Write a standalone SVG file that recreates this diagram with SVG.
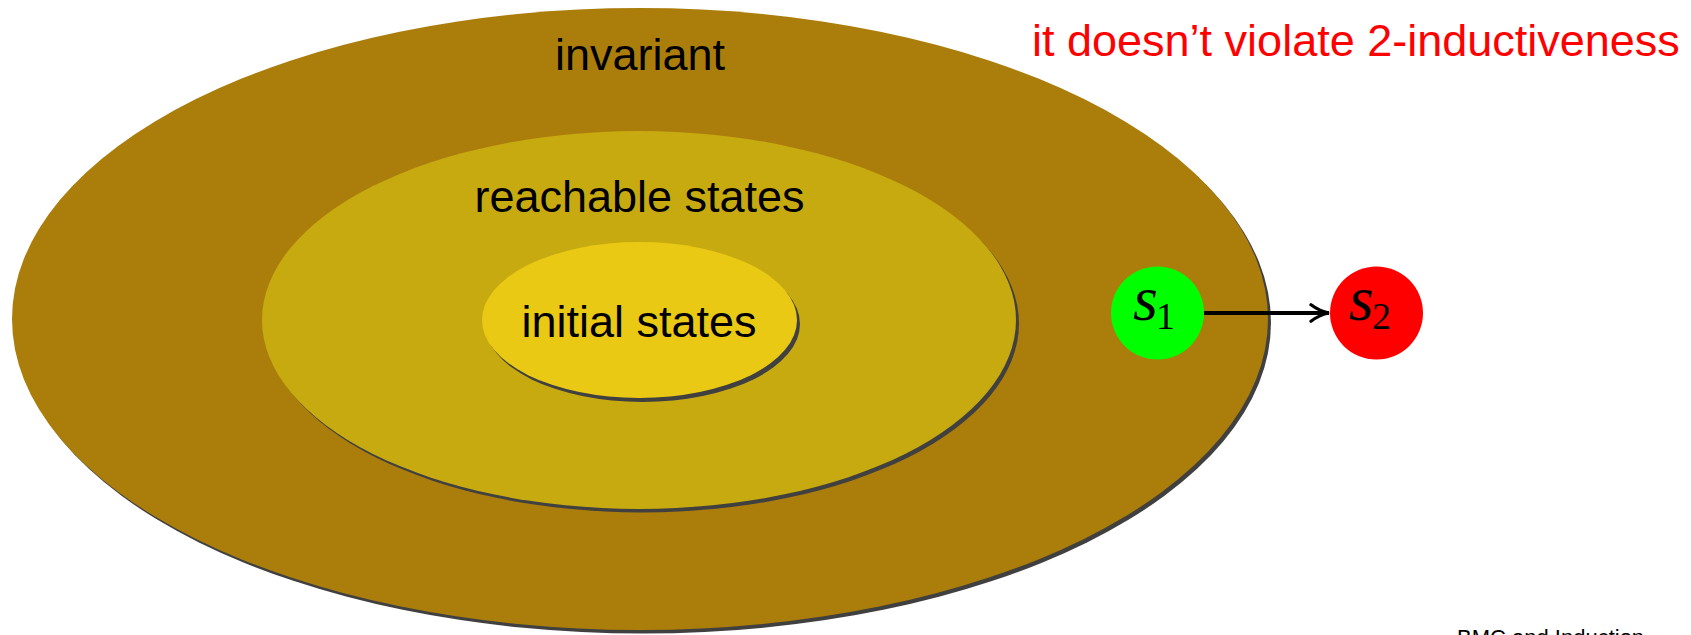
<svg xmlns="http://www.w3.org/2000/svg" width="1691" height="635" viewBox="0 0 1691 635">
  <defs>
    <style>
      .shadow { fill: #404040; }
      .label { font-family: "Liberation Sans", Arial, Helvetica, sans-serif; font-size: 45px; fill: #000; text-anchor: middle; }
      .note { font-family: "Liberation Sans", Arial, Helvetica, sans-serif; font-size: 45px; fill: #ff0000; }
      .math { font-family: "Liberation Serif", "Times New Roman", serif; font-style: italic; font-size: 64px; fill: #000; }
      .sub { font-style: normal; font-size: 38px; }
      .edge { stroke: #000; stroke-width: 4; fill: none; }
    </style>
    <marker id="arrow" viewBox="0 0 10 10" refX="9.6" refY="5" markerUnits="userSpaceOnUse" markerWidth="26" markerHeight="20" orient="auto">
      <path d="M0.6,0.9 Q5,4.2 9.6,5 Q5,5.8 0.6,9.1" fill="none" stroke="#000" stroke-width="1.6" stroke-linecap="round"/>
    </marker>
  </defs>

  <rect width="1691" height="635" fill="#ffffff"/>

  <!-- outermost set -->
  <g id="invariant">
    <ellipse class="shadow" cx="643" cy="322.5" rx="628" ry="311"/>
    <ellipse cx="640" cy="319" rx="628" ry="311" fill="#ab7e0b"/>
    <text class="label" x="640" y="70">invariant</text>
  </g>

  <!-- middle set -->
  <g id="reachable">
    <ellipse class="shadow" cx="642" cy="323.5" rx="377" ry="189"/>
    <ellipse cx="639" cy="320" rx="377" ry="189" fill="#c7aa10"/>
    <text class="label" x="639.5" y="212">reachable states</text>
  </g>

  <!-- innermost set -->
  <g id="initial">
    <ellipse class="shadow" cx="642.5" cy="324" rx="157.5" ry="78"/>
    <ellipse cx="639.5" cy="320" rx="157.5" ry="78" fill="#e9c914"/>
    <text class="label" x="639" y="337">initial states</text>
  </g>

  <!-- transition -->
  <g id="connectors">
    <line class="edge" x1="1204" y1="313" x2="1329" y2="313" marker-end="url(#arrow)"/>
  </g>

  <g id="s1">
    <circle cx="1157.5" cy="313" r="46.5" fill="#00ff00"/>
    <text class="math" x="1133" y="320">s<tspan class="sub" dx="-2" dy="9">1</tspan></text>
  </g>

  <g id="s2">
    <circle cx="1376.5" cy="313" r="46.5" fill="#ff0000"/>
    <text class="math" x="1349" y="320">s<tspan class="sub" dx="-2" dy="9">2</tspan></text>
  </g>

  <text class="note" x="1032" y="56">it doesn’t violate 2-inductiveness</text>

  <text x="1457" y="645" font-family="'Liberation Sans', Arial, sans-serif" font-size="22" fill="#000">BMC and Induction</text>
</svg>
